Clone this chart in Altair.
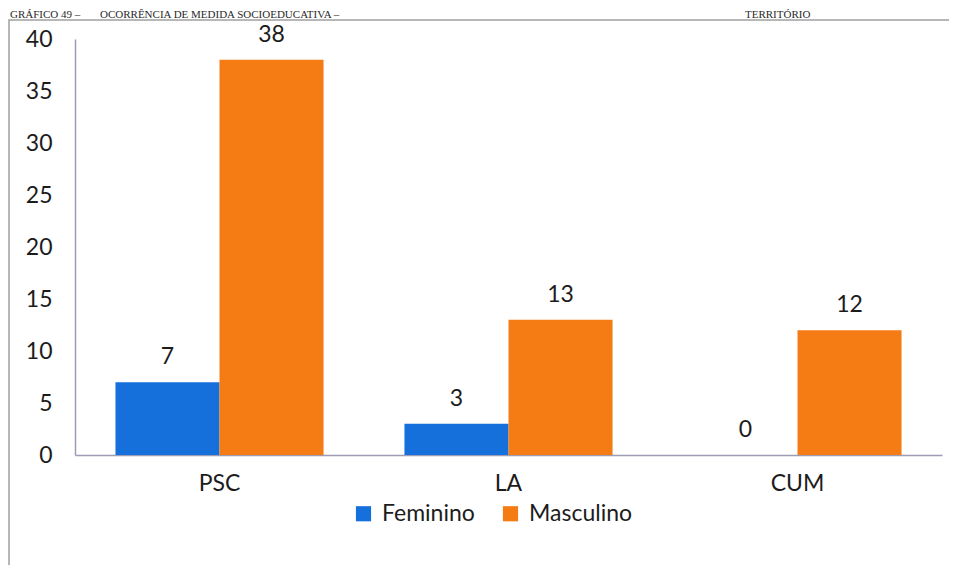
import altair as alt
import pandas as pd

# ---- data ----
categorias = ["PSC", "LA", "CUM"]
feminino = [7, 3, 0]
masculino = [38, 13, 12]
series = ["Feminino", "Masculino"]
cores = ["#1670dc", "#f57b14"]
y_ticks = [0, 5, 10, 15, 20, 25, 30, 35, 40]
titulo_partes = ["GRÁFICO 49 –", "OCORRÊNCIA DE MEDIDA SOCIOEDUCATIVA –", "TERRITÓRIO"]

rows = []
for c, f, m in zip(categorias, feminino, masculino):
    rows.append({"categoria": c, "sexo": "Feminino", "valor": f})
    rows.append({"categoria": c, "sexo": "Masculino", "valor": m})
df = pd.DataFrame(rows)

FONT = "Lato"
FS = 23
TXT = "#1c1c1c"
W, H = 867, 416

x_enc = alt.X(
    "categoria:N",
    sort=categorias,
    scale=alt.Scale(paddingInner=0.28, paddingOuter=0.14),
    axis=alt.Axis(
        title=None, labelAngle=0, ticks=False, labelPadding=17,
        labelFontSize=FS, labelFont=FONT, labelColor=TXT,
        domainColor="#9c9cb4", domainWidth=1.5,
    ),
)
xo_enc = alt.XOffset("sexo:N", sort=series)
y_enc = alt.Y(
    "valor:Q",
    scale=alt.Scale(domain=[0, 40], nice=False),
    axis=alt.Axis(
        title=None, values=y_ticks, grid=False, ticks=False, labelPadding=23,
        labelFontSize=FS, labelFont=FONT, labelColor=TXT,
        domainColor="#9c9cb4", domainWidth=1.5,
    ),
)

base = alt.Chart(df)

bars = base.mark_bar().encode(
    x=x_enc,
    xOffset=xo_enc,
    y=y_enc,
    color=alt.Color(
        "sexo:N",
        sort=series,
        scale=alt.Scale(domain=series, range=cores),
        legend=alt.Legend(
            title=None, orient="none", legendX=277, legendY=463,
            direction="horizontal", symbolType="square", symbolSize=230,
            symbolStrokeWidth=0, labelFontSize=FS, labelFont=FONT,
            labelColor=TXT, columnPadding=24, labelOffset=7,
        ),
    ),
)

labels = base.mark_text(
    fontSize=FS, font=FONT, color=TXT, baseline="alphabetic", dy=-18
).encode(
    x=x_enc,
    xOffset=xo_enc,
    y=alt.Y("valor:Q"),
    text=alt.Text("valor:Q"),
)

one = alt.Chart(pd.DataFrame({"a": [0]}))

frame = one.mark_rect(
    fillOpacity=0, stroke="#a0a0a0", strokeWidth=1.5
).encode(
    x=alt.value(-66), x2=alt.value(W + 40),
    y=alt.value(-19), y2=alt.value(H + 200),
)

tstyle = dict(font="Liberation Serif", fontSize=11, color="#2a2a2a",
              align="left", baseline="alphabetic")
t1 = one.mark_text(**tstyle).encode(
    x=alt.value(-65), y=alt.value(-21.5), text=alt.value(titulo_partes[0]))
t2 = one.mark_text(**tstyle).encode(
    x=alt.value(25), y=alt.value(-21.5), text=alt.value(titulo_partes[1]))
t3 = one.mark_text(**tstyle).encode(
    x=alt.value(670), y=alt.value(-21.5), text=alt.value(titulo_partes[2]))

chart = alt.layer(frame, bars, labels, t1, t2, t3).properties(
    width=W,
    height=H,
    autosize=alt.AutoSizeParams(type="none"),
    padding={"left": 67, "top": 31, "right": 7, "bottom": 110},
    background="white",
).configure_view(stroke=None)

chart.save("out.html", embed_options={"renderer": "svg", "actions": False})
